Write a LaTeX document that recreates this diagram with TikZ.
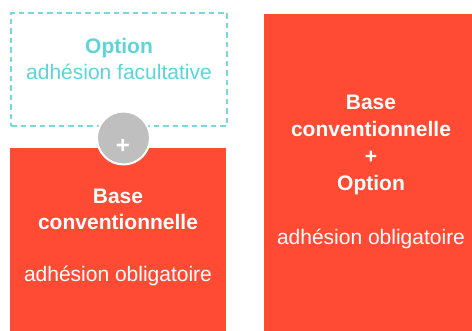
\documentclass[tikz,border=0pt]{standalone}
\usepackage{fontspec}
\setmainfont{Liberation Sans}
\usetikzlibrary{positioning}
\definecolor{rouge}{HTML}{FF4B33}
\definecolor{turquoise}{HTML}{5CD4D8}
\definecolor{gris}{HTML}{BFBFBF}
\tikzset{
  red box/.style={rectangle,fill=rouge,inner sep=0pt},
  option box/.style={rectangle,draw=turquoise!85,dash pattern=on 5.5pt off 4pt,line width=1.4pt,inner sep=0pt},
  box text/.style={align=center,inner sep=0pt,font=\fontsize{21}{26}\selectfont},
  plus node/.style={circle,fill=gris,draw=white,line width=2pt,minimum size=53pt,inner sep=0pt}
}

\begin{document}
\begin{tikzpicture}[x=1pt,y=-1pt]
  \useasboundingbox (0,0) rectangle (472,331);
  % boxes
  \node[option box,minimum width=216pt,minimum height=113pt] (option) at (119,69.5) {};
  \node[red box,minimum width=216pt,minimum height=190pt] (base) at (118,243) {};
  \node[red box,minimum width=214pt,minimum height=325pt] (total) at (371,176.5) {};
  % texts
  \node[box text,text=turquoise] (option text) at (119,59) {\textbf{Option}\\adhésion facultative};
  \node[box text,text=white] (base text) at (118,237) {\textbf{Base}\\\textbf{conventionnelle}\\[26pt]adhésion obligatoire};
  \node[box text,text=white,font=\fontsize{21}{26.8}\selectfont] (total text) at (371,172.2) {\textbf{Base}\\\textbf{conventionnelle}\\\textbf{+}\\\textbf{Option}\\[27.5pt]adhésion obligatoire};
  % plus
  \node[plus node] (plus) at (123.5,138) {};
  \node[text=white,inner sep=0pt,font=\bfseries\fontsize{24}{24}\selectfont] (plus sign) at (123,146.5) {+};
\end{tikzpicture}
\end{document}
